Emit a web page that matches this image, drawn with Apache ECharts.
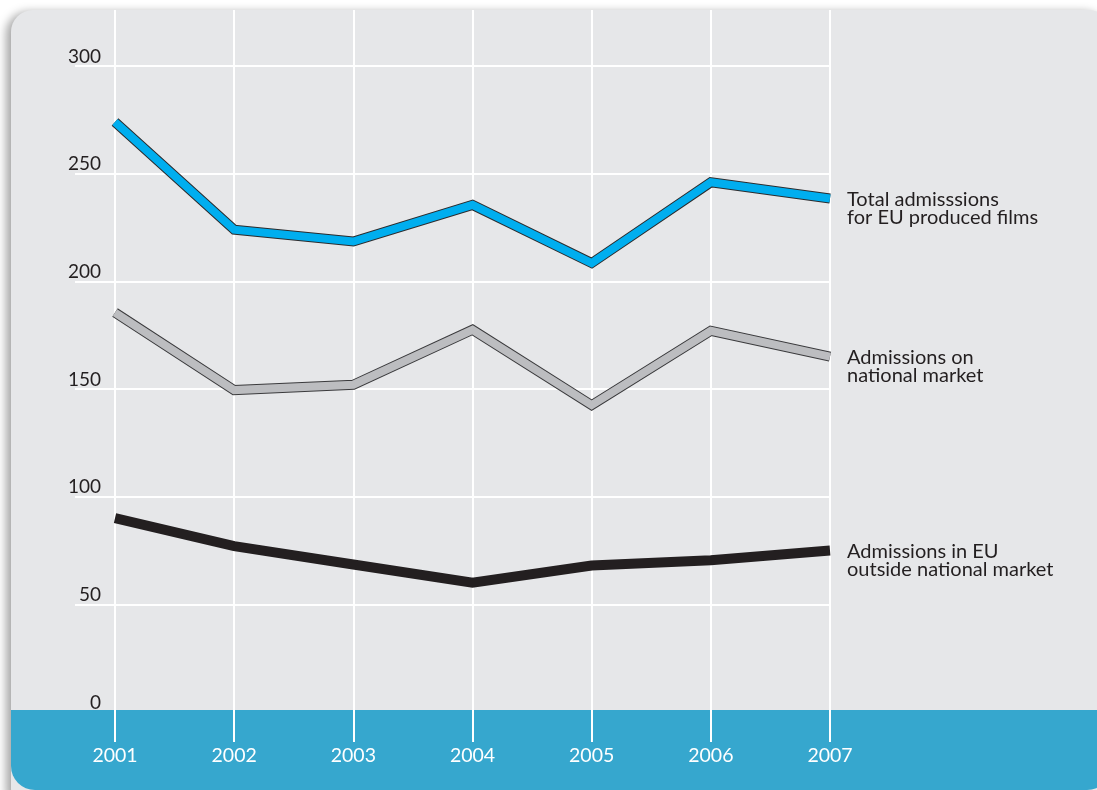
<!DOCTYPE html>
<html>
<head>
<meta charset="utf-8">
<script src="https://cdn.jsdelivr.net/npm/echarts@6/dist/echarts.min.js"></script>
<style>
html,body{margin:0;padding:0;background:#ffffff;}
#chart{width:1097px;height:790px;}
</style>
</head>
<body>
<div id="chart"></div>
<script>
const years = ['2001','2002','2003','2004','2005','2006','2007'];
const totalAdmissions = [274, 224, 218.5, 235.5, 208.5, 246, 238.5];
const nationalMarket = [185.5, 149.5, 152, 177.5, 142.5, 177, 165];
const outsideNational = [90, 77, 68.5, 60, 68, 70.5, 75];
const seriesNames = ['Total admisssions\nfor EU produced films', 'Admissions on\nnational market', 'Admissions in EU\noutside national market'];
const yTicks = { min: 0, max: 300, interval: 50 };

const chart = echarts.init(document.getElementById('chart'), null, { renderer: 'canvas' });

const textColor = '#231f20';
const font = 'Lato';

function endLabel(name) {
  return {
    show: true,
    formatter: () => name,
    color: textColor,
    fontFamily: font,
    fontSize: 20,
    lineHeight: 18,
    distance: 17,
    offset: [0, 10],
    align: 'left'
  };
}

const option = {
  animation: false,
  graphic: [
    {
      type: 'rect',
      z: -10,
      shape: { x: 11, y: 10, width: 1100, height: 800, r: 22 },
      style: { fill: '#e6e7e9', shadowBlur: 10, shadowOffsetX: -5, shadowOffsetY: 2, shadowColor: 'rgba(0,0,0,0.35)' }
    },
    {
      type: 'rect',
      z: 1,
      shape: { x: 11, y: 710, width: 1100, height: 80, r: [0, 0, 24, 24] },
      style: { fill: '#36a7ce' }
    }
  ],
  grid: [
    { left: 115, right: 267, top: 66, bottom: 78 },
    { left: 115, right: 267, top: 10, bottom: 48 }
  ],
  xAxis: [
    {
      gridIndex: 0,
      type: 'category',
      data: years,
      boundaryGap: false,
      z: 0,
      axisLine: { show: false },
      axisTick: { show: false },
      splitLine: { show: false },
      axisLabel: { show: false }
    },
    {
      gridIndex: 1,
      type: 'category',
      data: years,
      boundaryGap: false,
      z: 2,
      axisLine: { show: false },
      axisTick: { show: false },
      axisLabel: { show: true, color: '#ffffff', fontFamily: font, fontSize: 19.5, margin: 4 },
      splitLine: { show: true, lineStyle: { color: '#ffffff', width: 2 } }
    }
  ],
  yAxis: [
    {
      gridIndex: 0,
      type: 'value',
      min: yTicks.min,
      max: yTicks.max,
      interval: yTicks.interval,
      z: 0,
      axisLine: { show: false },
      axisTick: { show: true, length: 40, lineStyle: { color: '#ffffff', width: 2 } },
      splitLine: { show: true, lineStyle: { color: '#ffffff', width: 2 } },
      axisLabel: { color: textColor, fontFamily: font, fontSize: 19, margin: 14, verticalAlign: 'bottom' }
    },
    {
      gridIndex: 1,
      type: 'value',
      show: false,
      min: 0,
      max: 1
    }
  ],
  series: [
    {
      type: 'line', xAxisIndex: 0, yAxisIndex: 0, z: 3,
      data: outsideNational, symbol: 'none', silent: true,
      lineStyle: { color: '#231f20', width: 10, cap: 'butt', join: 'miter' },
      endLabel: endLabel(seriesNames[2])
    },
    {
      type: 'line', xAxisIndex: 0, yAxisIndex: 0, z: 3,
      data: nationalMarket, symbol: 'none', silent: true,
      lineStyle: { color: '#3a3a3c', width: 10, cap: 'butt', join: 'miter' }
    },
    {
      type: 'line', xAxisIndex: 0, yAxisIndex: 0, z: 4,
      data: nationalMarket, symbol: 'none', silent: true,
      lineStyle: { color: '#bcbdc0', width: 8, cap: 'butt', join: 'miter' },
      endLabel: endLabel(seriesNames[1])
    },
    {
      type: 'line', xAxisIndex: 0, yAxisIndex: 0, z: 3,
      data: totalAdmissions, symbol: 'none', silent: true,
      lineStyle: { color: '#2b2b2d', width: 10, cap: 'butt', join: 'miter' }
    },
    {
      type: 'line', xAxisIndex: 0, yAxisIndex: 0, z: 4,
      data: totalAdmissions, symbol: 'none', silent: true,
      lineStyle: { color: '#00aeef', width: 8, cap: 'butt', join: 'miter' },
      endLabel: endLabel(seriesNames[0])
    }
  ]
};

chart.setOption(option);
</script>
</body>
</html>
